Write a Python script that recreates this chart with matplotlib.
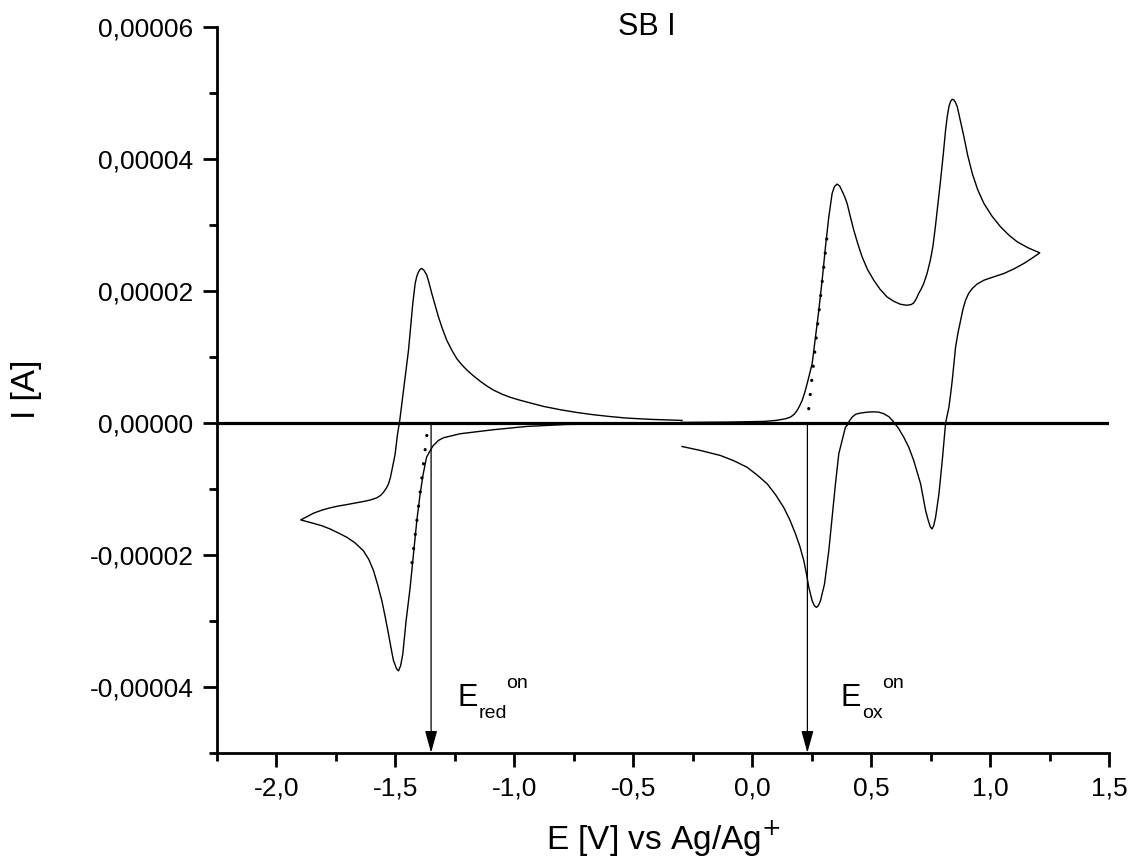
import numpy as np
import matplotlib
matplotlib.use("Agg")
import matplotlib.pyplot as plt
from matplotlib.ticker import MultipleLocator, FuncFormatter

plt.rcParams["font.family"] = ["Liberation Sans", "DejaVu Sans"]

# reduction loop, swept from -0.3 V to -1.9 V and back (current in uA)
red_E = [-0.300, -0.550, -0.780, -0.947, -1.088, -1.228, -1.298, -1.320, -1.333,
         -1.342, -1.355, -1.369, -1.383, -1.396, -1.410, -1.424, -1.438, -1.455,
         -1.469, -1.478, -1.487, -1.495, -1.502, -1.508, -1.518, -1.529, -1.543,
         -1.557, -1.575, -1.592, -1.612, -1.635, -1.670, -1.704, -1.740, -1.775,
         -1.810, -1.845, -1.875, -1.898,
         -1.870, -1.845, -1.810, -1.775, -1.740, -1.704, -1.670, -1.635, -1.605,
         -1.578, -1.562, -1.550, -1.538, -1.529, -1.521, -1.515, -1.508, -1.501,
         -1.491, -1.483, -1.466, -1.445, -1.427, -1.417, -1.410, -1.403, -1.396,
         -1.389, -1.380, -1.368, -1.358, -1.347, -1.333, -1.319, -1.302, -1.284,
         -1.263, -1.242, -1.220, -1.200, -1.172, -1.144, -1.117, -1.088, -1.050,
         -1.017, -0.980, -0.947, -0.877, -0.807, -0.737, -0.667, -0.596, -0.526,
         -0.420, -0.295]
red_I = [-0.10, -0.15, -0.26, -0.56, -1.06, -1.67, -2.28, -2.70, -3.19,
         -3.50, -4.30, -5.22, -7.74, -10.77, -14.83, -19.88, -24.95, -30.00,
         -35.05, -36.80, -37.60, -37.30, -36.60, -36.07, -34.20, -32.02, -29.40,
         -26.97, -24.50, -22.41, -20.70, -19.38, -18.20, -17.36, -16.70, -16.09,
         -15.60, -15.24, -14.95, -14.72,
         -14.20, -13.72, -13.25, -12.90, -12.62, -12.40, -12.17, -11.94, -11.70,
         -11.38, -11.00, -10.53, -9.90, -9.26, -8.30, -7.24, -6.00, -4.70,
         -1.67, 0.00, 4.90, 10.97, 18.06, 21.09, 22.20, 22.85, 23.25,
         23.37, 23.10, 22.35, 21.10, 19.58, 17.80, 16.02, 14.20, 12.49,
         11.00, 9.71, 8.75, 8.00, 7.10, 6.30, 5.60, 4.95, 4.30,
         3.85, 3.45, 3.13, 2.47, 1.97, 1.55, 1.21, 0.93, 0.70,
         0.50, 0.35]

# oxidation loop, swept from -0.3 V to 1.2 V and back (current in uA)
ox_E = [-0.300, -0.100, 0.050, 0.100, 0.140, 0.161, 0.177, 0.189, 0.200, 0.210,
        0.221, 0.231, 0.252, 0.266, 0.280, 0.294, 0.308, 0.322, 0.336, 0.346,
        0.357, 0.368, 0.378, 0.388, 0.399, 0.412, 0.427, 0.444, 0.462, 0.485,
        0.511, 0.538, 0.567, 0.595, 0.623, 0.650, 0.668, 0.679, 0.690, 0.700,
        0.711, 0.721, 0.735, 0.749, 0.760, 0.770, 0.781, 0.792, 0.803, 0.813,
        0.820, 0.827, 0.834, 0.841, 0.848, 0.855, 0.862, 0.875, 0.890, 0.906,
        0.925, 0.948, 0.974, 1.008, 1.044, 1.080, 1.114, 1.160, 1.209,
        1.175, 1.142, 1.100, 1.058, 1.015, 0.974, 0.945, 0.925, 0.910, 0.897,
        0.886, 0.876, 0.865, 0.855, 0.848, 0.841, 0.834, 0.827, 0.813, 0.799,
        0.785, 0.771, 0.763, 0.756, 0.749, 0.740, 0.729, 0.708, 0.679, 0.658,
        0.637, 0.616, 0.595, 0.575, 0.553, 0.532, 0.511, 0.483, 0.455, 0.436,
        0.420, 0.408, 0.399, 0.392, 0.378, 0.364, 0.350, 0.336, 0.322, 0.304,
        0.287, 0.278, 0.270, 0.261, 0.252, 0.238, 0.228, 0.217, 0.200, 0.182,
        0.158, 0.132, 0.098, 0.063, 0.020, -0.022, -0.078, -0.134, -0.218, -0.295]
ox_I = [0.05, 0.10, 0.20, 0.35, 0.60, 0.85, 1.30, 1.87, 2.60, 3.38,
        4.60, 5.92, 8.95, 12.99, 17.04, 21.59, 26.65, 31.20, 34.75, 35.80,
        36.16, 35.85, 35.10, 34.30, 33.23, 31.30, 29.18, 27.10, 25.13, 23.20,
        21.59, 20.20, 19.06, 18.40, 17.95, 17.80, 17.90, 18.15, 18.80, 19.60,
        20.30, 21.09, 22.60, 24.63, 26.80, 29.68, 33.20, 36.77, 40.60, 44.36,
        46.40, 47.89, 48.70, 49.01, 48.90, 48.50, 47.89, 45.80, 43.34, 40.50,
        37.79, 35.30, 33.23, 31.30, 29.68, 28.40, 27.41, 26.50, 25.74,
        24.90, 24.13, 23.30, 22.61, 22.10, 21.59, 21.00, 20.33, 19.60, 18.56,
        17.20, 15.52, 13.60, 11.47, 9.00, 6.42, 4.30, 2.37, -0.06, -5.72,
        -10.77, -14.32, -15.60, -16.09, -15.80, -14.80, -13.31, -9.26, -5.72, -3.70,
        -2.19, -0.90, 0.09, 0.90, 1.37, 1.60, 1.65, 1.60, 1.46, 1.30,
        0.85, 0.25, -0.41, -0.66, -2.69, -4.70, -9.26, -14.32, -19.38, -24.43,
        -26.97, -27.70, -27.98, -27.70, -26.97, -24.95, -22.90, -20.90, -18.70, -16.84,
        -14.70, -12.81, -10.90, -9.26, -7.90, -6.74, -5.75, -4.96, -4.20, -3.60]

# onset tangents (E, uA) and onset potentials
red_tangent_E = [-1.368, -1.431]
red_tangent_I = [-1.93, -21.4]
ox_tangent_E = [0.2376, 0.315]
ox_tangent_I = [2.12, 28.42]
E_red_on = -1.35
E_ox_on = 0.232

uA = 1e-6

fig = plt.figure(figsize=(11.35, 8.65), dpi=100)
ax = fig.add_axes([0.1912, 0.1298, 0.7859, 0.8393])

ax.plot(red_E, np.array(red_I) * uA, color="black", lw=1.0)
ax.plot(ox_E, np.array(ox_I) * uA, color="black", lw=1.0)

dots = dict(color="black", lw=2.3, linestyle=(0, (0.05, 4.4)),
            dash_capstyle="round")
ax.plot(red_tangent_E, np.array(red_tangent_I) * uA, **dots)
ax.plot(ox_tangent_E, np.array(ox_tangent_I) * uA, **dots)

ax.axhline(0, color="black", lw=2.3, zorder=3)

ax.set_xlim(-2.25, 1.5)
ax.set_ylim(-5e-5, 6e-5)

for e_on in (E_red_on, E_ox_on):
    ax.annotate("", xy=(e_on, -5e-5), xytext=(e_on, 0),
                arrowprops=dict(arrowstyle="-|>,head_length=0.9,head_width=0.25",
                                mutation_scale=15, lw=0.9, color="black",
                                shrinkA=0, shrinkB=0))

# onset labels: E with subscript and a trailing superscript
for x, sub, sub_dx, sup_dx in ((-1.240, "red", 15.1, 35.3), (0.371, "ox", 15.6, 30.0)):
    ax.text(x, -4.29e-5, "E", fontsize=22, ha="left", va="baseline")
    ax.annotate(sub, xy=(x, -4.29e-5), xytext=(sub_dx, -8.6),
                textcoords="offset points", fontsize=14, ha="left", va="baseline")
    ax.annotate("on", xy=(x, -4.29e-5), xytext=(sup_dx, 13.0),
                textcoords="offset points", fontsize=14, ha="left", va="baseline")

ax.text(0.482, 1.0, "SB I", transform=ax.transAxes, fontsize=22,
        ha="center", va="center")

for side in ("top", "right"):
    ax.spines[side].set_visible(False)
for side in ("left", "bottom"):
    ax.spines[side].set_linewidth(2.0)

ax.xaxis.set_major_locator(MultipleLocator(0.5))
ax.xaxis.set_minor_locator(MultipleLocator(0.25))
ax.yaxis.set_major_locator(MultipleLocator(2e-5))
ax.yaxis.set_minor_locator(MultipleLocator(1e-5))
ax.xaxis.set_major_formatter(FuncFormatter(lambda v, p: f"{v:.1f}".replace(".", ",")))
ax.yaxis.set_major_formatter(FuncFormatter(lambda v, p: f"{v:.5f}".replace(".", ",")))
ax.tick_params(which="major", direction="out", length=10, width=2.0,
               labelsize=19, pad=7)
ax.tick_params(which="minor", direction="out", length=6, width=2.0)

ax.set_xlabel(r"E [V] vs Ag/Ag$^{+}$", fontsize=24, labelpad=14)
ax.set_ylabel("I [A]", fontsize=24, labelpad=34)

fig.savefig("out.png", dpi=100)
